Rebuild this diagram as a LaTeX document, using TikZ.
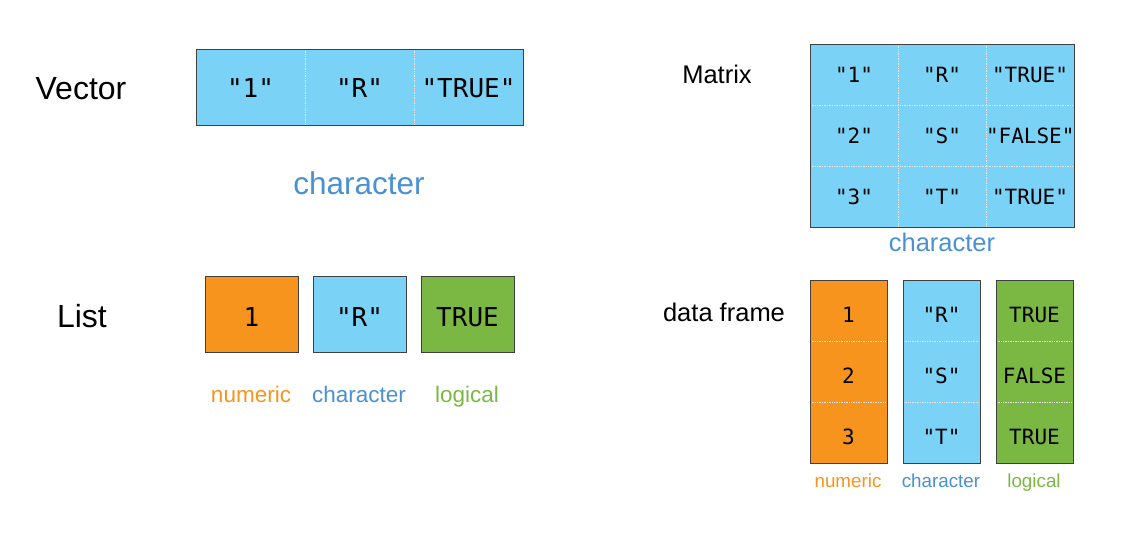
\documentclass[tikz,border=0pt]{standalone}
\usepackage{fontspec}
\setmainfont{Liberation Sans}
\setmonofont{DejaVu Sans Mono}

\definecolor{chrblue}{HTML}{7AD3F7}
\definecolor{numorange}{HTML}{F7941E}
\definecolor{lglgreen}{HTML}{7AB843}
\definecolor{txtblue}{HTML}{4A90D2}

\tikzset{
	cell/.style={anchor=north west, inner sep=0pt, outer sep=0pt, text depth=0pt},
	split/.style={white!80!gray, densely dotted, line width=0.7pt},
	frame/.style={draw=black!75, line width=0.9pt},
	big/.style={font=\ttfamily\fontsize{26}{26}\selectfont, text height=#1},
	big/.default=21pt,
	small/.style={font=\ttfamily\fontsize{21}{21}\selectfont, text height=#1},
	small/.default=16pt,
	lbl/.style={anchor=base, inner sep=0pt, font=\fontsize{#1}{#1}\selectfont},
}

\begin{document}
\begin{tikzpicture}[x=1pt,y=-1pt]

\useasboundingbox (0,0) rectangle (1127,546);

% vector
\foreach \i/\x/\t in {1/196/"1", 2/305/"R", 3/414/"TRUE"}{
	\node[cell, big, fill=chrblue, minimum width=109pt, minimum height=76pt] (v\i) at (\x,49) {\t};
}
\draw[split] (v1.north east) -- (v1.south east);
\draw[split] (v2.north east) -- (v2.south east);
\draw[frame] (v1.north west) rectangle (v3.south east);
\node[lbl=32] (vtitle) at (81,99) {Vector};
\node[lbl=31.5, text=txtblue] (vtype) at (359,194) {character};

% matrix
\foreach \r/\a/\b/\c in {0/"1"/"R"/"TRUE", 1/"2"/"S"/"FALSE", 2/"3"/"T"/"TRUE"}{
	\node[cell, small, fill=chrblue, minimum width=88pt, minimum height=61pt] (m\r-1) at (810,44+61*\r) {\a};
	\node[cell, small, fill=chrblue, minimum width=88pt, minimum height=61pt] (m\r-2) at (898,44+61*\r) {\b};
	\node[cell, small, fill=chrblue, minimum width=88pt, minimum height=61pt] (m\r-3) at (986,44+61*\r) {\c};
}
\foreach \r in {0,1}{
	\draw[split] (m\r-1.south west) -- (m\r-3.south east);
}
\foreach \k in {1,2}{
	\draw[split] (m0-\k.north east) -- (m2-\k.south east);
}
\draw[frame] (m0-1.north west) rectangle (m2-3.south east);
\node[lbl=25.5] (mtitle) at (717,83) {Matrix};
\node[lbl=25.5, text=txtblue] (mtype) at (942,251) {character};

% list
\foreach \i/\x/\col/\t/\name/\tc in {1/205/numorange/1/numeric/numorange, 2/313/chrblue/"R"/character/txtblue, 3/421/lglgreen/TRUE/logical/lglgreen}{
	\node[cell, big=25pt, fill=\col, frame, minimum width=93pt, minimum height=76pt] (l\i) at (\x,276) {\t};
	\node[lbl=22.5, text=\tc] (ltype\i) at (\x+46,402) {\name};
}
\node[lbl=32] (ltitle) at (82,327) {List};

% data frame
\foreach \k/\x/\col/\a/\b/\c/\name/\tc in {%
	1/810/numorange/1/2/3/numeric/numorange%
	,2/903/chrblue/"R"/"S"/"T"/character/txtblue%
	,3/996/lglgreen/TRUE/FALSE/TRUE/logical/lglgreen%
}{
	\node[cell, small=23pt, fill=\col, minimum width=77pt, minimum height=61pt] (d\k-0) at (\x,280) {\a};
	\node[cell, small=23pt, fill=\col, minimum width=77pt, minimum height=61pt] (d\k-1) at (\x,341) {\b};
	\node[cell, small=23pt, fill=\col, minimum width=77pt, minimum height=61pt] (d\k-2) at (\x,402) {\c};
	\draw[split] (d\k-0.south west) -- (d\k-0.south east);
	\draw[split] (d\k-1.south west) -- (d\k-1.south east);
	\draw[frame] (d\k-0.north west) rectangle (d\k-2.south east);
	\node[lbl=18.8, text=\tc] (dtype\k) at (\x+38,487) {\name};
}
\node[lbl=25.5] (dtitle) at (724,321) {data frame};

\end{tikzpicture}
\end{document}
